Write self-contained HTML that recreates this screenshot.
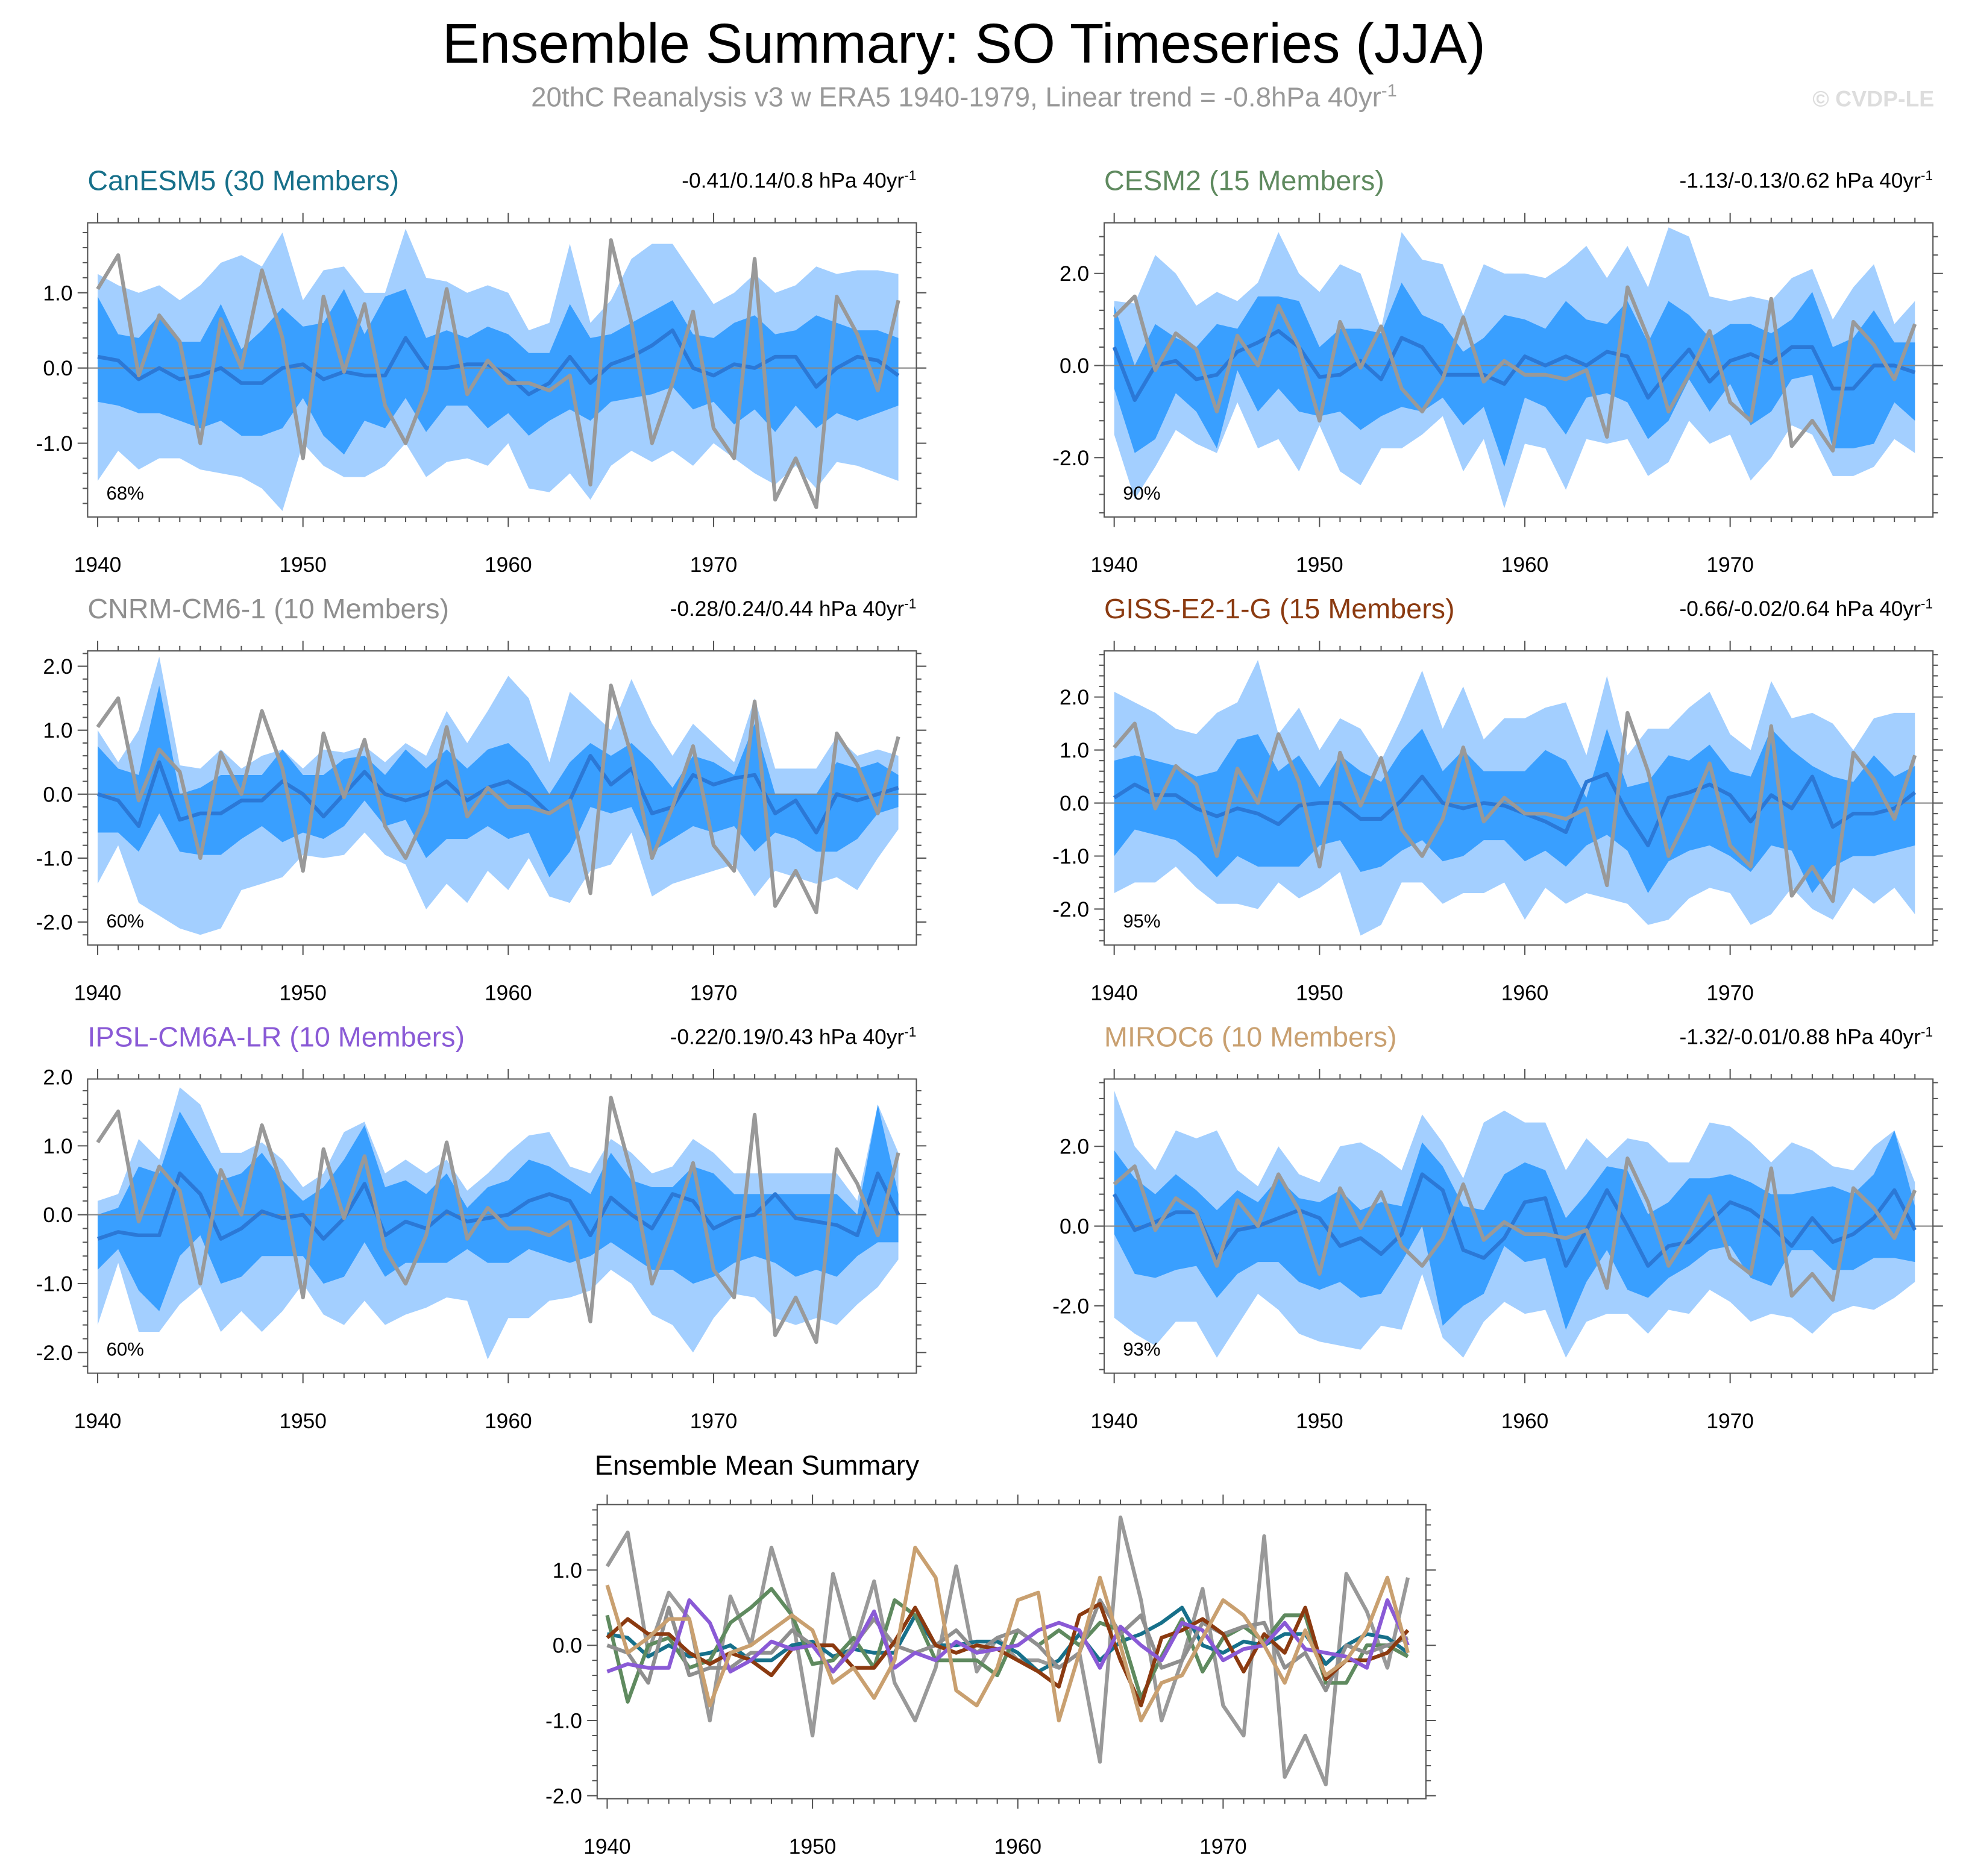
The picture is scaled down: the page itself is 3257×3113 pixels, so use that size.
<!DOCTYPE html>
<html><head><meta charset="utf-8"><style>
html,body{margin:0;padding:0;background:#fff;}
svg{display:block;font-family:"Liberation Sans",sans-serif;}
</style></head><body>
<svg id="c" width="3257" height="3113" viewBox="0 0 1568 1498.7" preserveAspectRatio="none" xmlns="http://www.w3.org/2000/svg">
<text x="770" y="50" font-size="44.5" text-anchor="middle">Ensemble Summary: SO Timeseries (JJA)</text>
<text x="770" y="85" font-size="22" fill="#999" text-anchor="middle">20thC Reanalysis v3 w ERA5 1940-1979, Linear trend = -0.8hPa 40yr<tspan font-size="14" dy="-8">-1</tspan></text>
<text x="1545" y="85" font-size="18" font-weight="bold" fill="#ddd" text-anchor="end">© CVDP-LE</text>
</svg>
<script>
const years=[];for(let y=1940;y<=1979;y++)years.push(y);
const obs=[1.05,1.5,-0.1,0.7,0.35,-1.0,0.65,0.0,1.3,0.4,-1.2,0.95,-0.05,0.85,-0.5,-1.0,-0.3,1.05,-0.35,0.1,-0.2,-0.2,-0.3,-0.1,-1.55,1.7,0.6,-1.0,-0.2,0.75,-0.8,-1.2,1.45,-1.75,-1.2,-1.85,0.95,0.45,-0.3,0.9];
const modelNames=["CanESM5 (30 Members)","CESM2 (15 Members)","CNRM-CM6-1 (10 Members)","GISS-E2-1-G (15 Members)","IPSL-CM6A-LR (10 Members)","MIROC6 (10 Members)"];
const modelColors=["#17708a","#5f8a5f","#8f8f8f","#8b3a10","#8a5ad6","#c9a070"];
const trendLabels=["-0.41/0.14/0.8","-1.13/-0.13/0.62","-0.28/0.24/0.44","-0.66/-0.02/0.64","-0.22/0.19/0.43","-1.32/-0.01/0.88"];
const pctLabels=["68%","90%","60%","95%","60%","93%"];
const outerTop=[
[1.25,1.1,1.0,1.1,0.9,1.1,1.4,1.5,1.35,1.8,0.9,1.3,1.35,1.0,1.0,1.85,1.2,1.15,1.0,1.1,1.0,0.5,0.6,1.65,0.6,0.9,1.45,1.65,1.65,1.25,0.85,1.0,1.25,1.0,1.1,1.35,1.25,1.3,1.3,1.25],
[1.4,1.35,2.4,2.0,1.3,1.6,1.4,1.8,2.9,2.0,1.6,2.2,2.0,0.8,2.9,2.3,2.2,1.1,2.2,2.0,2.0,1.9,2.2,2.6,1.9,2.6,1.7,3.0,2.8,1.5,1.4,1.5,1.4,1.9,2.1,1.0,1.7,2.2,0.9,1.4],
[1.0,0.5,1.0,2.15,0.45,0.4,0.7,0.4,0.6,0.7,0.4,0.7,0.65,0.75,0.5,0.8,0.6,1.3,0.8,1.3,1.85,1.5,0.5,1.6,1.3,1.0,1.8,1.1,0.6,1.1,0.8,0.5,1.5,0.4,0.4,0.4,0.9,0.6,0.7,0.6],
[2.1,1.9,1.7,1.4,1.3,1.7,1.9,2.7,1.3,1.8,1.0,1.6,1.4,0.8,1.6,2.5,1.4,2.2,1.2,1.6,1.6,1.8,1.9,0.9,2.4,0.9,1.4,1.4,1.8,2.1,1.3,1.0,2.3,1.6,1.7,1.5,1.0,1.6,1.7,1.7],
[0.2,0.3,1.1,0.8,1.85,1.6,0.9,0.9,1.05,0.8,0.4,0.6,1.2,1.35,0.6,0.8,0.6,0.8,0.35,0.6,0.9,1.15,1.2,0.7,0.6,1.1,0.9,0.6,0.7,1.1,0.9,0.6,0.6,0.6,0.6,0.6,0.6,0.2,1.6,0.9],
[3.4,2.0,1.4,2.4,2.2,2.4,1.4,1.0,2.0,1.3,1.1,2.0,2.1,1.8,1.4,2.8,2.1,1.2,2.6,2.9,2.6,2.6,1.4,2.2,1.7,2.2,2.1,1.6,1.6,2.6,2.5,2.1,1.6,2.1,1.9,1.5,1.4,2.0,2.4,1.1]];
const outerBot=[
[-1.5,-1.1,-1.35,-1.2,-1.2,-1.35,-1.4,-1.45,-1.6,-1.9,-1.0,-1.3,-1.45,-1.45,-1.3,-1.0,-1.45,-1.25,-1.2,-1.3,-1.0,-1.6,-1.65,-1.4,-1.75,-1.3,-1.1,-1.25,-1.1,-1.3,-1.0,-1.2,-1.4,-1.55,-1.3,-1.6,-1.25,-1.3,-1.4,-1.5],
[-1.5,-2.9,-2.2,-1.4,-1.7,-1.9,-0.8,-1.8,-1.6,-2.3,-1.3,-2.3,-2.6,-1.8,-1.8,-1.5,-1.1,-2.3,-1.6,-3.1,-1.7,-1.8,-2.7,-1.6,-1.7,-1.6,-2.4,-2.1,-1.2,-1.7,-1.5,-2.5,-2.0,-1.3,-1.5,-2.4,-2.4,-2.2,-1.6,-1.9],
[-1.4,-0.8,-1.7,-1.9,-2.1,-2.2,-2.1,-1.5,-1.4,-1.3,-0.95,-1.0,-0.95,-0.6,-0.95,-1.1,-1.8,-1.4,-1.7,-1.2,-1.5,-1.0,-1.6,-1.7,-1.2,-1.1,-0.6,-1.6,-1.4,-1.3,-1.2,-1.1,-1.6,-1.2,-1.3,-1.4,-1.3,-1.5,-1.0,-0.55],
[-1.7,-1.5,-1.5,-1.2,-1.6,-1.9,-1.9,-2.0,-1.5,-1.8,-1.6,-1.3,-2.5,-2.3,-1.5,-1.5,-1.9,-1.7,-1.7,-1.5,-2.2,-1.6,-1.9,-1.7,-1.8,-1.9,-2.3,-2.2,-1.8,-1.6,-1.7,-2.3,-2.1,-1.6,-2.0,-2.2,-1.6,-1.9,-1.6,-2.1],
[-1.6,-0.7,-1.7,-1.7,-1.3,-1.05,-1.7,-1.4,-1.7,-1.4,-1.0,-1.45,-1.6,-1.25,-1.6,-1.45,-1.35,-1.2,-1.25,-2.1,-1.5,-1.5,-1.25,-1.2,-1.1,-0.8,-1.0,-1.45,-1.6,-2.0,-1.5,-1.15,-1.2,-1.5,-1.6,-1.5,-1.6,-1.3,-1.05,-0.65],
[-2.3,-2.7,-3.0,-2.4,-2.4,-3.3,-2.5,-1.7,-2.1,-2.7,-2.9,-3.0,-3.1,-2.5,-2.6,-1.2,-2.8,-3.3,-2.4,-1.9,-2.2,-2.1,-3.3,-2.4,-2.2,-2.2,-2.7,-2.1,-2.2,-1.6,-1.9,-2.4,-2.2,-2.3,-2.7,-2.2,-2.0,-2.1,-1.8,-1.4]];
const innerTop=[
[0.95,0.45,0.4,0.7,0.35,0.35,0.85,0.25,0.5,0.8,0.55,0.6,1.05,0.45,0.95,1.05,0.4,0.5,0.4,0.55,0.45,0.2,0.2,0.85,0.4,0.45,0.6,0.75,0.9,0.45,0.4,0.6,0.7,0.45,0.5,0.7,0.6,0.5,0.5,0.4],
[1.3,0.0,0.9,0.6,0.4,0.9,0.8,1.5,1.5,1.4,0.4,0.8,0.8,0.7,1.8,1.1,0.9,0.3,0.6,1.1,1.0,0.8,1.4,1.0,0.9,1.4,0.5,1.4,1.1,0.6,0.9,0.9,0.7,1.0,1.6,0.4,0.6,1.2,0.5,0.5],
[0.75,0.4,0.3,1.7,0.0,0.1,0.3,0.3,0.3,0.7,0.3,0.3,0.55,0.6,0.3,0.7,0.4,0.7,0.4,0.7,0.8,0.5,0.0,0.5,0.8,0.6,0.8,0.5,0.1,0.6,0.5,0.3,1.1,0.0,0.0,0.0,0.5,0.4,0.5,0.3],
[0.8,0.9,0.8,0.7,0.5,0.6,1.2,1.3,0.6,0.9,0.3,0.9,0.6,0.4,1.0,1.4,0.6,1.0,0.6,0.6,0.6,1.0,0.8,0.1,1.4,0.3,0.4,0.9,0.8,1.1,0.6,0.5,1.4,1.0,0.7,0.5,0.4,0.9,0.5,0.7],
[0.0,0.1,0.7,0.6,1.5,1.0,0.5,0.6,0.9,0.5,0.2,0.4,0.8,1.3,0.4,0.5,0.3,0.6,0.1,0.4,0.5,0.8,0.7,0.5,0.3,0.9,0.5,0.4,0.4,0.7,0.6,0.3,0.3,0.3,0.3,0.3,0.3,0.0,1.6,0.3],
[1.9,1.2,0.8,1.3,0.9,0.4,0.9,0.6,1.2,0.7,0.6,0.9,0.4,0.6,0.5,2.1,1.5,0.5,0.4,1.3,1.6,1.4,0.2,0.8,1.5,1.4,0.3,0.6,1.2,1.2,1.3,1.1,0.8,0.8,0.9,1.0,0.8,1.3,2.4,0.5]];
const innerBot=[
[-0.45,-0.5,-0.6,-0.6,-0.7,-0.8,-0.7,-0.9,-0.9,-0.8,-0.4,-0.9,-1.15,-0.7,-0.8,-0.4,-0.85,-0.5,-0.5,-0.8,-0.6,-0.9,-0.7,-0.55,-0.7,-0.45,-0.4,-0.35,-0.25,-0.55,-0.45,-0.75,-0.55,-0.85,-0.5,-0.8,-0.6,-0.7,-0.6,-0.5],
[-0.5,-1.9,-1.6,-0.6,-1.0,-1.8,-0.1,-1.0,-0.5,-1.0,-1.1,-1.0,-1.4,-1.1,-0.9,-1.0,-0.7,-1.3,-0.9,-2.2,-0.7,-0.9,-1.5,-0.7,-0.6,-0.8,-1.6,-1.2,-0.3,-1.0,-0.4,-1.3,-1.0,-0.3,-0.2,-1.8,-1.8,-1.7,-0.8,-1.2],
[-0.6,-0.6,-0.9,-0.3,-0.9,-0.95,-0.95,-0.7,-0.5,-0.75,-0.6,-0.7,-0.5,-0.1,-0.5,-0.4,-1.0,-0.7,-0.7,-0.5,-0.7,-0.6,-1.3,-0.9,-0.2,-0.3,-0.2,-0.9,-0.7,-0.5,-0.6,-0.5,-0.9,-0.6,-0.7,-0.9,-0.9,-0.7,-0.3,-0.2],
[-1.0,-0.5,-0.6,-0.7,-1.0,-1.4,-1.0,-1.2,-1.2,-1.2,-0.8,-0.7,-1.3,-1.2,-0.9,-0.7,-1.1,-1.0,-0.7,-0.7,-1.1,-0.9,-1.2,-0.8,-0.6,-0.9,-1.7,-1.1,-0.9,-0.8,-1.0,-1.3,-0.8,-0.9,-1.7,-1.2,-1.0,-1.0,-0.9,-0.8],
[-0.8,-0.5,-1.1,-1.4,-0.6,-0.3,-1.0,-0.9,-0.6,-0.6,-0.6,-1.0,-0.9,-0.4,-0.9,-0.7,-0.7,-0.7,-0.5,-0.7,-0.7,-0.5,-0.6,-0.7,-0.6,-0.4,-0.6,-0.8,-0.8,-1.0,-0.9,-0.7,-0.6,-0.7,-0.9,-0.8,-0.9,-0.6,-0.4,-0.4],
[-0.2,-1.2,-1.3,-1.1,-1.0,-1.8,-1.2,-0.9,-0.9,-1.4,-1.6,-1.4,-1.8,-1.7,-0.9,0.0,-2.5,-2.0,-1.7,-0.5,-0.9,-0.8,-2.6,-1.4,-0.6,-1.6,-1.8,-1.3,-1.0,-0.6,-0.5,-1.3,-1.5,-0.6,-0.6,-1.1,-1.1,-0.8,-0.8,-0.9]];
const ensMean=[
[0.15,0.1,-0.15,0.0,-0.15,-0.1,0.0,-0.2,-0.2,0.0,0.05,-0.15,-0.05,-0.1,-0.1,0.4,0.0,0.0,0.05,0.05,-0.1,-0.35,-0.2,0.15,-0.2,0.05,0.15,0.3,0.5,0.0,-0.1,0.05,0.0,0.15,0.15,-0.25,0.0,0.15,0.1,-0.1],
[0.4,-0.75,0.0,0.1,-0.3,-0.2,0.3,0.5,0.75,0.4,-0.25,-0.2,0.1,-0.3,0.6,0.4,-0.2,-0.2,-0.2,-0.4,0.2,0.0,0.2,0.0,0.3,0.2,-0.7,-0.15,0.35,-0.35,0.1,0.25,0.05,0.4,0.4,-0.5,-0.5,0.0,0.0,-0.15],
[0.0,-0.1,-0.5,0.5,-0.4,-0.3,-0.3,-0.1,-0.1,0.2,0.0,-0.35,0.0,0.35,0.0,-0.1,0.0,0.2,-0.1,0.1,0.2,0.0,-0.3,-0.1,0.6,0.15,0.4,-0.3,-0.2,0.3,0.15,0.25,0.3,-0.3,-0.1,-0.6,0.0,-0.1,0.0,0.1],
[0.1,0.35,0.15,0.15,-0.1,-0.25,-0.1,-0.2,-0.4,-0.05,0.0,0.0,-0.3,-0.3,0.05,0.5,0.0,-0.1,0.0,-0.05,-0.2,-0.35,-0.55,0.4,0.55,-0.2,-0.8,0.1,0.2,0.35,0.15,-0.35,0.15,-0.1,0.5,-0.45,-0.2,-0.2,-0.1,0.2],
[-0.35,-0.25,-0.3,-0.3,0.6,0.3,-0.35,-0.2,0.05,-0.05,0.0,-0.35,-0.05,0.45,-0.3,-0.1,-0.2,0.05,-0.1,-0.05,0.0,0.2,0.3,0.2,-0.3,0.25,0.0,-0.2,0.3,0.2,-0.2,-0.05,0.0,0.3,-0.05,-0.1,-0.15,-0.3,0.6,0.0],
[0.8,-0.1,0.1,0.35,0.35,-0.8,-0.1,0.0,0.2,0.4,0.2,-0.5,-0.3,-0.7,-0.2,1.3,0.9,-0.6,-0.8,-0.3,0.6,0.7,-1.0,-0.1,0.9,0.0,-1.0,-0.5,-0.4,0.1,0.6,0.4,0.0,-0.5,0.2,-0.4,-0.2,0.2,0.9,-0.1]];
const yRanges=[[-1.98,1.93],[-3.29,3.1],[-2.36,2.24],[-2.68,2.87],[-2.3,1.97],[-3.69,3.69]];
const yTickSets=[[-1,0,1],[-2,0,2],[-2,-1,0,1,2],[-2,-1,0,1,2],[-2,-1,0,1,2],[-2,0,2]];
const xTicks=[1940,1950,1960,1970];

const svg=document.getElementById('c');const NS='http://www.w3.org/2000/svg';
function mk(t,a,p){const e=document.createElementNS(NS,t);for(const k in a)e.setAttribute(k,a[k]);(p||svg).appendChild(e);return e;}
const W=662,H=235;
function axes(L,T,ymin,ymax,yticks,name){
  const g=mk('g',{});
  
  
  const xs=v=>L+8+(v-1940)*16.4;
  const ys=v=>T+H-(v-ymin)/(ymax-ymin)*H;
  return {g,xs,ys};
}
function frame(A,L,T,ymin,ymax,yticks){
  const g=A.g;
  mk('rect',{x:L,y:T,width:W,height:H,fill:'none',stroke:'#555','stroke-width':1},g);
  for(let y=1940;y<=1979;y++){
    const x=A.xs(y);const maj=(y%10===0);const len=maj?8:4;
    mk('line',{x1:x,x2:x,y1:T+H,y2:T+H+len,stroke:'#555','stroke-width':1},g);
    mk('line',{x1:x,x2:x,y1:T,y2:T-len,stroke:'#555','stroke-width':1},g);
  }
  xTicks.forEach(v=>{const t=mk('text',{x:A.xs(v),y:T+H+44,'font-size':17,'text-anchor':'middle'},g);t.textContent=v;
    
    });
  const step=(yticks[1]-yticks[0]);const mstep=step/5;
  for(let v=Math.ceil(ymin/mstep)*mstep;v<=ymax+1e-9;v+=mstep){
    const yy=A.ys(v);const maj=Math.abs(Math.round(v/step)*step-v)<1e-6;const len=maj?8:4;
    mk('line',{x1:L,x2:L-len,y1:yy,y2:yy,stroke:'#555','stroke-width':1},g);
    mk('line',{x1:L+W,x2:L+W+len,y1:yy,y2:yy,stroke:'#555','stroke-width':1},g);
  }
  yticks.forEach(v=>{const t=mk('text',{x:L-12,y:A.ys(v)+6,'font-size':17,'text-anchor':'end'},g);t.textContent=v.toFixed(1);
    
    });
}
function line(A,vals,color,w,name){
  const d=vals.map((v,i)=>(i?'L':'M')+A.xs(years[i]).toFixed(1)+','+A.ys(v).toFixed(1)).join('');
  const p=mk('path',{d,fill:'none',stroke:color,'stroke-width':w,'stroke-linejoin':'round'},A.g);
  
  
}
function band(A,lo,hi,color,name){
  let d=hi.map((v,i)=>(i?'L':'M')+A.xs(years[i]).toFixed(1)+','+A.ys(v).toFixed(1)).join('');
  for(let i=lo.length-1;i>=0;i--)d+='L'+A.xs(years[i]).toFixed(1)+','+A.ys(lo[i]).toFixed(1);
  const p=mk('path',{d:d+'Z',fill:color,stroke:'none'},A.g);
  
  
}
const lefts=[70,882],tops=[178,520,862];
for(let m=0;m<6;m++){
  const L=lefts[m%2],T=tops[Math.floor(m/2)];
  const [ymin,ymax]=yRanges[m];
  const A=axes(L,T,ymin,ymax,yTickSets[m],'panel-'+(m+1));
  band(A,outerBot[m],outerTop[m],'#a3cfff','outer-spread-band');
  band(A,innerBot[m],innerTop[m],'#399fff','inner-spread-band');
  const z=mk('line',{x1:L,x2:L+W,y1:A.ys(0),y2:A.ys(0),stroke:'#888','stroke-width':1},A.g);
  
  
  line(A,ensMean[m],'#2b78d6',3,'ensemble-mean-line');
  line(A,obs,'#999999',3,'observed-line');
  frame(A,L,T,ymin,ymax,yTickSets[m]);
  const t=mk('text',{x:L,y:T-26,'font-size':22.5,fill:modelColors[m]},A.g);t.textContent=modelNames[m];
  
  
  const tr=mk('text',{x:L+W,y:T-28,'font-size':17,'text-anchor':'end'},A.g);
  tr.innerHTML=trendLabels[m]+' hPa 40yr<tspan font-size="11" dy="-6">-1</tspan>';
  
  
  const pc=mk('text',{x:L+15,y:T+H-14,'font-size':15},A.g);pc.textContent=pctLabels[m];
  
  
}
(function(){
  const L=477,T=1202,ymin=-2.04,ymax=1.87,yt=[-2,-1,0,1];
  const A=axes(L,T,ymin,ymax,yt,'ensemble-mean-summary-panel');
  line(A,obs,'#999999',3,'observed-line');
  for(let m=0;m<6;m++)line(A,ensMean[m],modelColors[m],3,'summary-mean-line');
  frame(A,L,T,ymin,ymax,yt);
  const t=mk('text',{x:L-2,y:T-24,'font-size':22},A.g);t.textContent='Ensemble Mean Summary';
  
  
})();
</script>
</body></html>
